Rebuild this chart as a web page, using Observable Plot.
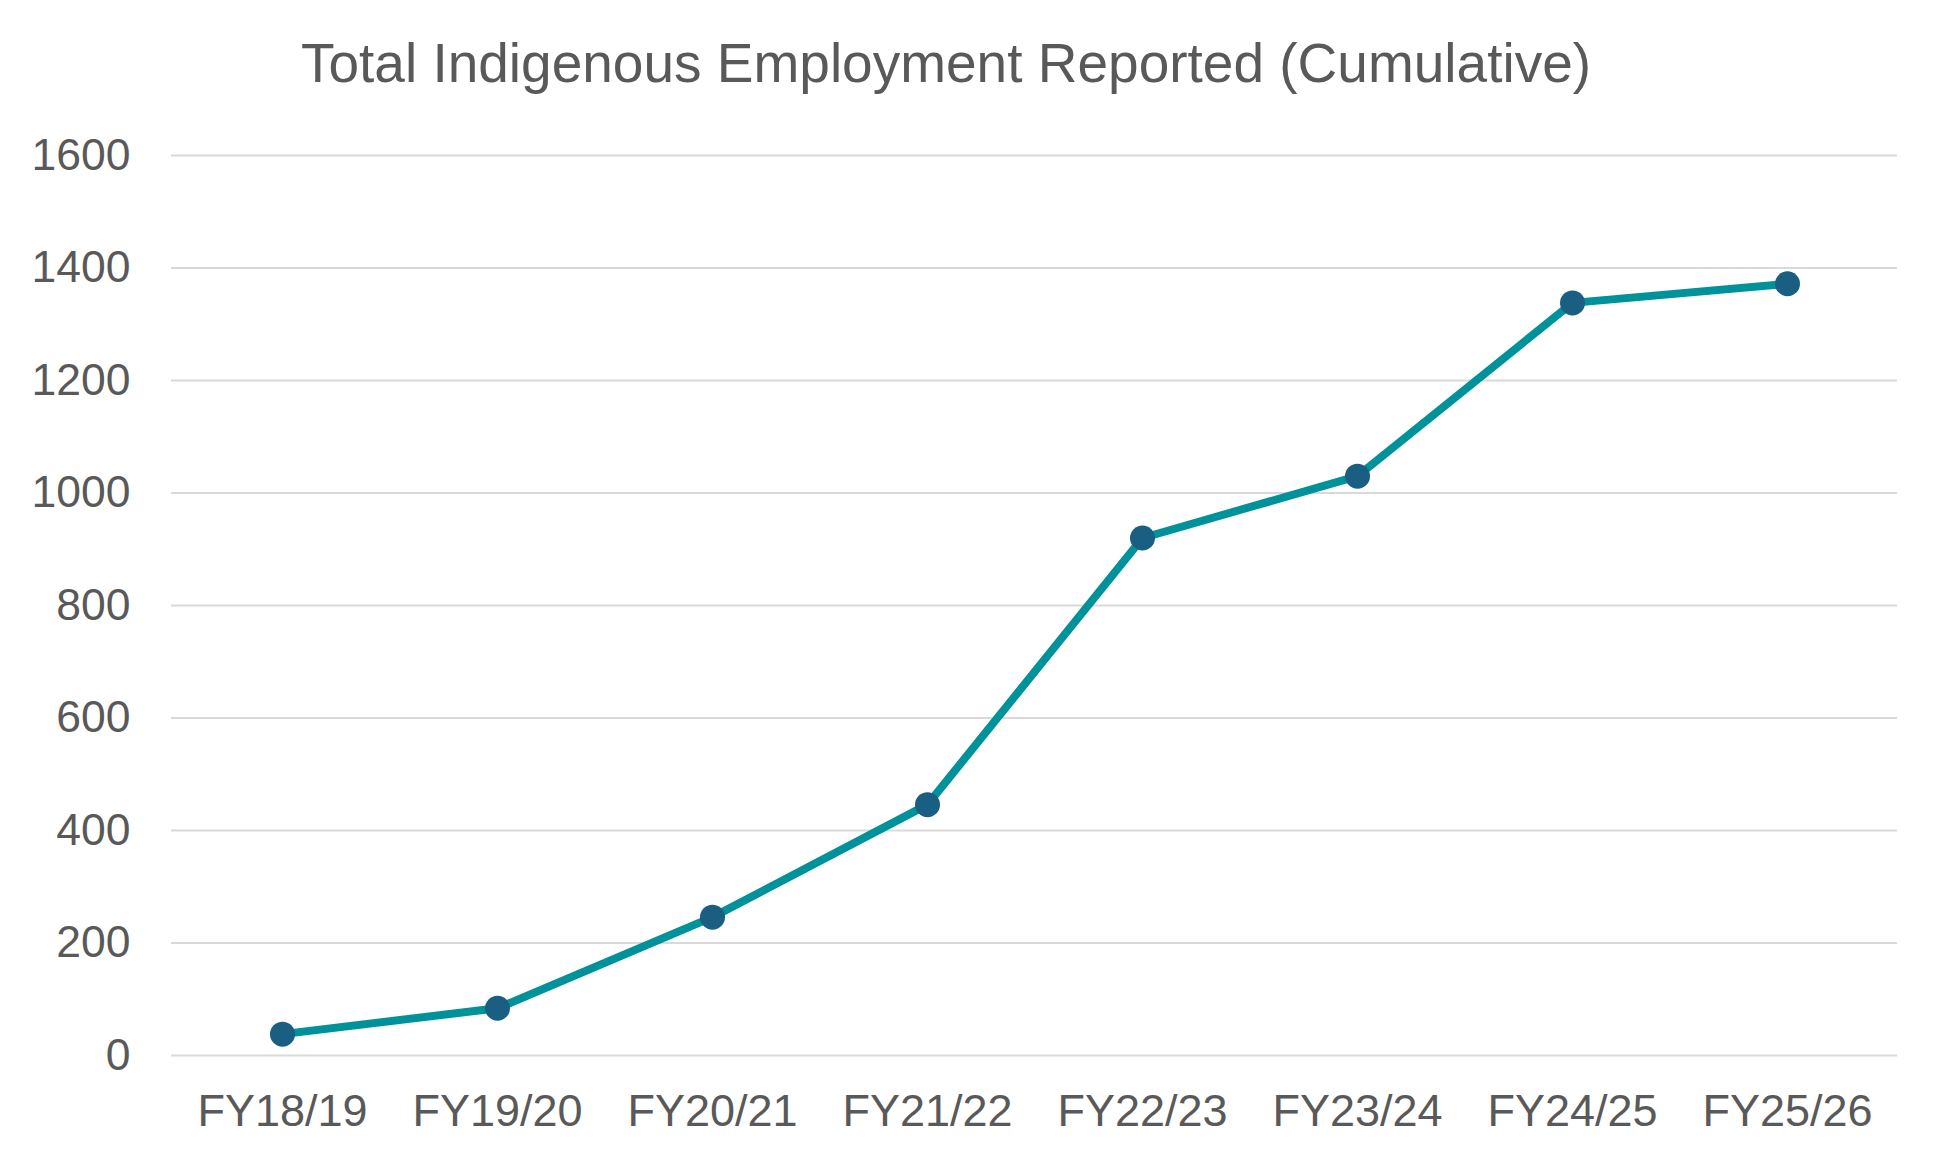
<!DOCTYPE html>
<html>
<head>
<meta charset="utf-8">
<script src="https://cdn.jsdelivr.net/npm/d3@7"></script>
<script src="https://cdn.jsdelivr.net/npm/@observablehq/plot@0.6"></script>
<style>
  html, body { margin: 0; padding: 0; background: #fff; }
  #title {
    width: 1892px; height: 126px; line-height: 126px;
    text-align: center; font-family: "Liberation Sans", Arial, sans-serif;
    font-size: 55px; color: #595959; white-space: nowrap;
  }
  #chart svg { display: block; }
</style>
</head>
<body>
<div id="title">Total Indigenous Employment Reported (Cumulative)</div>
<div id="chart"></div>
<script>
const years = ["FY18/19", "FY19/20", "FY20/21", "FY21/22", "FY22/23", "FY23/24", "FY24/25", "FY25/26"];
const employment = [38, 84, 246, 446, 920, 1030, 1338, 1372];
const yTicks = [0, 200, 400, 600, 800, 1000, 1200, 1400, 1600];

const data = years.map((y, i) => ({year: y, value: employment[i]}));

const chart = Plot.plot({
  width: 1948,
  height: 1038,
  marginLeft: 171,
  marginRight: 51,
  marginTop: 29,
  marginBottom: 109,
  style: {fontFamily: "'Liberation Sans', Arial, sans-serif", color: "#595959", background: "#fff"},
  x: {type: "point", domain: years, padding: 0.5, label: null},
  y: {domain: [0, 1600], ticks: yTicks, label: null},
  marks: [
    Plot.ruleY(yTicks, {stroke: "#d9d9d9", strokeWidth: 2}),
    Plot.axisY({ticks: yTicks, tickSize: 0, tickPadding: 41, fontSize: 44.5, fill: "#595959", label: null, tickFormat: d => String(d)}),
    Plot.axisX({tickSize: 0, tickPadding: 39, fontSize: 45, fill: "#595959", label: null}),
    Plot.line(data, {x: "year", y: "value", stroke: "#00929a", strokeWidth: 8, strokeLinejoin: "round"}),
    Plot.dot(data, {x: "year", y: "value", r: 12.5, fill: "#1a5e82", stroke: "none"})
  ]
});
document.getElementById("chart").appendChild(chart);
</script>
</body>
</html>
